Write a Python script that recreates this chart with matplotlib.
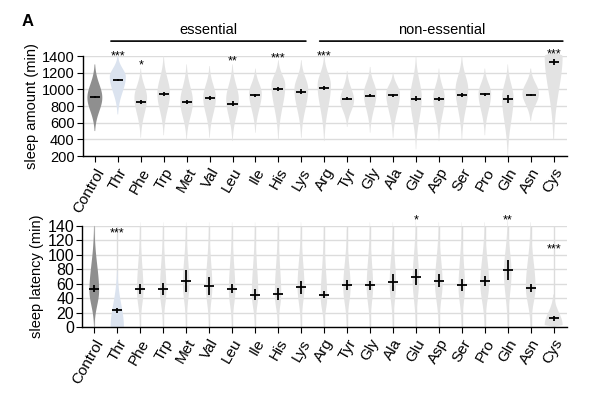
import matplotlib
matplotlib.use("Agg")
import matplotlib.pyplot as plt
import numpy as np

plt.rcParams["font.family"] = ["Liberation Sans", "DejaVu Sans"]

groups = ["Control", "Thr", "Phe", "Trp", "Met", "Val", "Leu", "Ile", "His", "Lys",
          "Arg", "Tyr", "Gly", "Ala", "Glu", "Asp", "Ser", "Pro", "Gln", "Asn", "Cys"]

# sleep amount (min)
amt_mean = [910, 1110, 850, 940, 850, 895, 830, 930, 1005, 970,
            1015, 890, 925, 930, 890, 880, 935, 940, 885, 935, 1330]
amt_sem = [15, 10, 25, 25, 20, 25, 30, 20, 25, 30,
           20, 20, 15, 20, 25, 25, 25, 20, 45, 15, 40]
amt_lo = [500, 700, 420, 450, 400, 420, 380, 480, 400, 420,
          380, 550, 480, 420, 280, 380, 400, 450, 200, 620, 400]
amt_hi = [1300, 1400, 1250, 1400, 1300, 1280, 1300, 1250, 1350, 1350,
          1400, 1220, 1270, 1200, 1400, 1250, 1400, 1250, 1300, 1250, 1460]
amt_peak = [900, 1150, 900, 950, 850, 900, 880, 950, 1050, 1000,
            1050, 870, 950, 950, 900, 900, 1000, 950, 900, 950, 1400]
amt_dens = [0.65, 0.7, 0.55, 0.55, 0.55, 0.55, 0.55, 0.55, 0.6, 0.6,
            0.58, 0.6, 0.55, 0.6, 0.5, 0.5, 0.55, 0.55, 0.5, 0.72, 0.78]
amt_stars = ["", "***", "*", "", "", "", "**", "", "***", "",
             "***", "", "", "", "", "", "", "", "", "", "***"]
amt_star_y = [0, 1400, 1290, 0, 0, 0, 1330, 0, 1370, 0,
              1390, 0, 0, 0, 0, 0, 0, 0, 0, 0, 1420]

# sleep latency (min)
lat_mean = [53, 23, 53, 53, 64, 57, 53, 45, 46, 55,
            45, 58, 58, 62, 69, 64, 58, 64, 79, 54, 12]
lat_sem = [5, 3, 7, 8, 15, 12, 6, 8, 8, 9,
           5, 7, 6, 12, 11, 9, 8, 7, 14, 6, 4]
lat_lo = [0] * 21
lat_hi = [140, 78, 145, 145, 145, 145, 145, 145, 145, 145,
          140, 135, 145, 145, 150, 145, 145, 145, 150, 145, 45]
lat_peak = [50, 0, 50, 50, 60, 55, 50, 45, 45, 55,
            40, 55, 55, 60, 65, 60, 55, 60, 75, 55, 3]
lat_dens = [0.42, 0.58, 0.28, 0.28, 0.28, 0.28, 0.28, 0.28, 0.28, 0.3,
            0.28, 0.32, 0.28, 0.28, 0.28, 0.33, 0.28, 0.38, 0.33, 0.42, 0.78]
lat_stars = ["", "***", "", "", "", "", "", "", "", "",
             "", "", "", "", "*", "", "", "", "**", "", "***"]
lat_star_y = [0, 130, 0, 0, 0, 0, 0, 0, 0, 0,
              0, 0, 0, 0, 148, 0, 0, 0, 148, 0, 108]

colors = ["#8f8f8f", "#dbe3ef"] + ["#e3e3e3"] * 19


def violin_stats(lo, hi, peak, mean):
    stats = []
    for a, b, p, m in zip(lo, hi, peak, mean):
        y = np.linspace(a, b, 200)
        s_lo = max(p - a, 1e-6) / 2.5
        s_hi = (b - p) / 2.5
        s = np.where(y < p, s_lo, s_hi)
        v = np.exp(-0.5 * ((y - p) / s) ** 2)
        stats.append(dict(coords=y, vals=v, mean=m, median=m, min=a, max=b))
    return stats


def draw_panel(ax, mean, sem, lo, hi, peak, dens, stars, star_y, ysize):
    x = np.arange(len(groups))
    for i in range(len(groups)):
        st = violin_stats([lo[i]], [hi[i]], [peak[i]], [mean[i]])
        parts = ax.violin(st, positions=[x[i]], widths=dens[i],
                          showmeans=False, showextrema=False)
        for b in parts["bodies"]:
            b.set_facecolor(colors[i])
            b.set_edgecolor("none")
            b.set_alpha(1)
            b.set_clip_on(False)
            b.set_zorder(2)
    ax.errorbar(x, mean, yerr=sem, fmt="none", ecolor="black", elinewidth=1.3,
                capsize=0, zorder=4)
    ax.hlines(mean, x - 0.22, x + 0.22, color="black", lw=1.3, zorder=4)
    for i, s in enumerate(stars):
        if s:
            ax.text(x[i], star_y[i], s, ha="center", va="center", fontsize=9,
                    clip_on=False)
    ax.set_xlim(-0.52, 20.57)
    ax.set_xticks(x)
    ax.set_xticklabels(groups, rotation=60, ha="right", rotation_mode="anchor",
                       fontsize=11)
    ax.tick_params(axis="both", direction="out", length=4, width=0.8, pad=2)
    ax.tick_params(axis="y", labelsize=ysize)
    ax.tick_params(axis="x", pad=3)
    for side in ["top", "right"]:
        ax.spines[side].set_visible(False)
    for side in ["left", "bottom"]:
        ax.spines[side].set_linewidth(1.0)
    ax.set_axisbelow(True)


fig = plt.figure(figsize=(6.01, 3.95), dpi=100)
ax1 = fig.add_axes([0.138, 0.605, 0.805, 0.253])
ax2 = fig.add_axes([0.137, 0.172, 0.806, 0.256])

draw_panel(ax1, amt_mean, amt_sem, amt_lo, amt_hi, amt_peak, amt_dens,
           amt_stars, amt_star_y, 10.5)
ax1.set_ylim(200, 1400)
ax1.set_yticks(np.arange(200, 1401, 200))
ax1.grid(axis="y", color="#dcdcdc", lw=1.0)
ax1.set_ylabel("sleep amount (min)", fontsize=10.5, labelpad=2)

draw_panel(ax2, lat_mean, lat_sem, lat_lo, lat_hi, lat_peak, lat_dens,
           lat_stars, lat_star_y, 11.5)
ax2.set_ylim(0, 140)
ax2.set_yticks(np.arange(0, 141, 20))
ax2.grid(axis="both", color="#dcdcdc", lw=1.0)
ax2.set_ylabel("sleep latency (min)", fontsize=10.5, labelpad=2)

# group brackets
fig.text(22 / 601, 1 - 22 / 395, "A", fontsize=12, fontweight="bold",
         ha="left", va="center")
ax1.annotate("", xy=(0.7, 1.15), xytext=(9.2, 1.15),
             xycoords=("data", "axes fraction"),
             arrowprops=dict(arrowstyle="-", lw=1.2, color="black",
                             shrinkA=0, shrinkB=0))
ax1.annotate("", xy=(9.8, 1.15), xytext=(20.4, 1.15),
             xycoords=("data", "axes fraction"),
             arrowprops=dict(arrowstyle="-", lw=1.2, color="black",
                             shrinkA=0, shrinkB=0))
ax1.text(4.95, 1.19, "essential", ha="center", va="bottom", fontsize=10.5,
         transform=ax1.get_xaxis_transform())
ax1.text(15.1, 1.19, "non-essential", ha="center", va="bottom", fontsize=10.5,
         transform=ax1.get_xaxis_transform())

fig.savefig("out.png", dpi=100)
